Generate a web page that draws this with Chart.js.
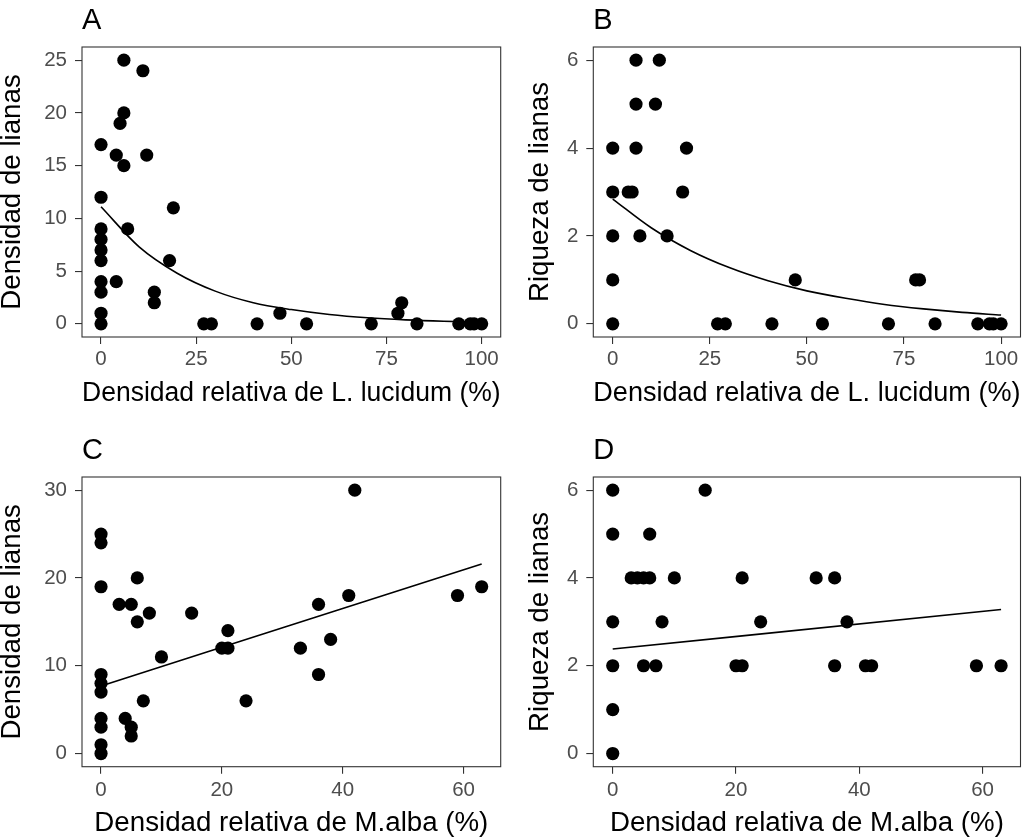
<!DOCTYPE html>
<html>
<head>
<meta charset="utf-8">
<script src="https://cdn.jsdelivr.net/npm/chart.js@4.4.0/dist/chart.umd.min.js"></script>
<style>
  body { margin: 0; background: #fff; }
  #wrap { position: relative; width: 1031px; height: 839px; background: #fff; }
  canvas { position: absolute; }
</style>
</head>
<body>
<div id="wrap">
  <canvas id="chartA" width="515" height="420" style="left:0px;top:0px"></canvas>
  <canvas id="chartB" width="516" height="420" style="left:515px;top:0px"></canvas>
  <canvas id="chartC" width="515" height="419" style="left:0px;top:420px"></canvas>
  <canvas id="chartD" width="516" height="419" style="left:515px;top:420px"></canvas>
</div>
<script>
/************* data ********* */
// A: densidad de lianas vs densidad relativa de L. lucidum
const xA = [6, 11, 6, 5, 0, 4, 12, 6, 0, 19, 0, 7, 0, 0, 0, 18, 0, 4, 0, 14, 14, 0, 0, 27, 29, 41, 47, 54, 71, 78, 79, 83, 94, 97, 98, 100];
const yA = [25, 24, 20, 19, 17, 16, 16, 15, 12, 11, 9, 9, 8, 7, 6, 6, 4, 4, 3, 3, 2, 1, 0, 0, 0, 0, 1, 0, 0, 1, 2, 0, 0, 0, 0, 0];
const fitXA = [0, 10, 20, 30, 40, 50, 60, 70, 80, 90, 100];
const fitYA = [11.1, 7.3, 4.8, 3.1, 2.0, 1.35, 0.88, 0.57, 0.37, 0.24, 0.16];

// B: riqueza de lianas vs densidad relativa de L. lucidum
const xB = [6, 12, 6, 11, 0, 6, 19, 0, 4, 5, 18, 0, 7, 14, 0, 47, 78, 79, 0, 27, 29, 41, 54, 71, 83, 94, 97, 98, 100];
const yB = [6, 6, 5, 5, 4, 4, 4, 3, 3, 3, 3, 2, 2, 2, 1, 1, 1, 1, 0, 0, 0, 0, 0, 0, 0, 0, 0, 0, 0];
const fitXB = [0, 10, 20, 30, 40, 50, 60, 70, 80, 90, 100];
const fitYB = [2.84, 2.18, 1.67, 1.28, 0.98, 0.75, 0.58, 0.44, 0.34, 0.26, 0.2];

// C: densidad de lianas vs densidad relativa de M.alba
const xC = [42, 0, 0, 0, 6, 3, 5, 8, 6, 15, 10, 20, 21, 21, 24, 33, 36, 36, 38, 41, 59, 63, 0, 0, 0, 7, 0, 0, 4, 5, 5, 0, 0];
const yC = [30, 25, 24, 19, 20, 17, 17, 16, 15, 16, 11, 12, 12, 14, 6, 12, 17, 9, 13, 18, 18, 19, 9, 8, 7, 6, 4, 3, 4, 3, 2, 1, 0];
const fitXC = [0, 63];
const fitYC = [7.7, 21.6];

// D: riqueza de lianas vs densidad relativa de M.alba
const xD = [0, 15, 0, 6, 3, 4, 5, 6, 10, 21, 33, 36, 0, 8, 24, 38, 0, 5, 7, 20, 21, 36, 41, 42, 59, 63, 0, 0];
const yD = [6, 6, 5, 5, 4, 4, 4, 4, 4, 4, 4, 4, 3, 3, 3, 3, 2, 2, 2, 2, 2, 2, 2, 2, 2, 2, 1, 0];
const fitXD = [0, 63];
const fitYD = [2.38, 3.28];

// tick labels
const ticksXLucidum = [0, 25, 50, 75, 100];
const ticksXAlba = [0, 20, 40, 60];
const ticksYA = [0, 5, 10, 15, 20, 25];
const ticksYC = [0, 10, 20, 30];
const ticksYRiqueza = [0, 2, 4, 6];

const FONT = '"Liberation Sans", Arial, sans-serif';
const AXIS_COL = '#333333';

// frame around the panel + the panel letter (A, B, C, D)
const framePlugin = {
    id: 'panelFrame',
    afterDraw(chart, args, opts) {
        const {ctx, chartArea} = chart;
        ctx.save();
        ctx.strokeStyle = AXIS_COL;
        ctx.lineWidth = 1.1;
        ctx.strokeRect(chartArea.left, chartArea.top, chartArea.width, chartArea.height);
        ctx.fillStyle = '#000';
        ctx.font = '29px ' + FONT;
        ctx.textBaseline = 'alphabetic';
        ctx.textAlign = 'left';
        ctx.fillText(opts.text, chartArea.left, chartArea.top - 18);
        ctx.restore();
    }
};

function pairs(xs, ys) {
    return xs.map((x, i) => ({x: x, y: ys[i]}));
}

function makePanel(id, letter, xs, ys, fx, fy, xr, yr, xt, yt, xTitle, yTitle, lay) {
    new Chart(id, {
        type: 'scatter',
        data: {
            datasets: [{
                data: pairs(xs, ys),
                backgroundColor: '#000',
                borderWidth: 0,
                pointRadius: 6.6,
                order: 1
            }, {
                type: 'line',
                data: pairs(fx, fy),
                borderColor: '#000',
                borderWidth: 1.6,
                pointRadius: 0,
                fill: false,
                cubicInterpolationMode: 'monotone',
                order: 0
            }]
        },
        plugins: [framePlugin],
        options: {
            responsive: false,
            animation: false,
            devicePixelRatio: 1,
            layout: { padding: lay.pad },
            plugins: {
                legend: { display: false },
                tooltip: { enabled: false },
                panelFrame: { text: letter }
            },
            scales: {
                x: {
                    type: 'linear',
                    min: xr[0],
                    max: xr[1],
                    afterBuildTicks: (s) => { s.ticks = xt.map(v => ({value: v})); },
                    afterFit: (s) => { s.height = 70.5; },
                    grid: { display: true, drawOnChartArea: false, drawTicks: true, tickLength: 7, color: AXIS_COL, lineWidth: 1.1 },
                    border: { display: false },
                    ticks: { color: '#4D4D4D', font: { family: FONT, size: 20.5 }, padding: lay.xPad, maxRotation: 0 },
                    title: { display: true, text: xTitle, color: '#000', font: { family: FONT, size: 27.7, lineHeight: 1 }, padding: 0 }
                },
                y: {
                    type: 'linear',
                    min: yr[0],
                    max: yr[1],
                    afterBuildTicks: (s) => { s.ticks = yt.map(v => ({value: v})); },
                    afterFit: (s) => { s.width = lay.yWidth; },
                    grid: { display: true, drawOnChartArea: false, drawTicks: true, tickLength: 7, color: AXIS_COL, lineWidth: 1.1 },
                    border: { display: false },
                    ticks: { color: '#4D4D4D', font: { family: FONT, size: 20.5 }, padding: 8 },
                    title: { display: true, text: yTitle, color: '#000', font: { family: FONT, size: 27.7, lineHeight: 0.9 }, padding: 0 }
                }
            }
        }
    });
}

/************* chart A ********* */
makePanel('chartA', 'A', xA, yA, fitXA, fitYA, [-5, 105], [-1.25, 26.25], ticksXLucidum, ticksYA,
    'Densidad relativa de L. lucidum (%)', 'Densidad de lianas',
    { pad: {left: 0, top: 47, right: 14.3, bottom: 12.5}, yWidth: 82, xPad: 3 });

/************* chart B ********* */
makePanel('chartB', 'B', xB, yB, fitXB, fitYB, [-5, 105], [-0.3, 6.3], ticksXLucidum, ticksYRiqueza,
    'Densidad relativa de L. lucidum (%)', 'Riqueza de lianas',
    { pad: {left: 13, top: 47, right: 10.5, bottom: 12.5}, yWidth: 65.3, xPad: 3 });

/************* chart C ********* */
makePanel('chartC', 'C', xC, yC, fitXC, fitYC, [-3.15, 66.15], [-1.5, 31.5], ticksXAlba, ticksYC,
    'Densidad relativa de M.alba (%)', 'Densidad de lianas',
    { pad: {left: 0, top: 57, right: 14.3, bottom: 1.8}, yWidth: 82, xPad: 4.5 });

/************* chart D ********* */
makePanel('chartD', 'D', xD, yD, fitXD, fitYD, [-3.15, 66.15], [-0.3, 6.3], ticksXAlba, ticksYRiqueza,
    'Densidad relativa de M.alba (%)', 'Riqueza de lianas',
    { pad: {left: 13, top: 57, right: 10.5, bottom: 1.8}, yWidth: 65.3, xPad: 4.5 });
</script>
</body>
</html>
